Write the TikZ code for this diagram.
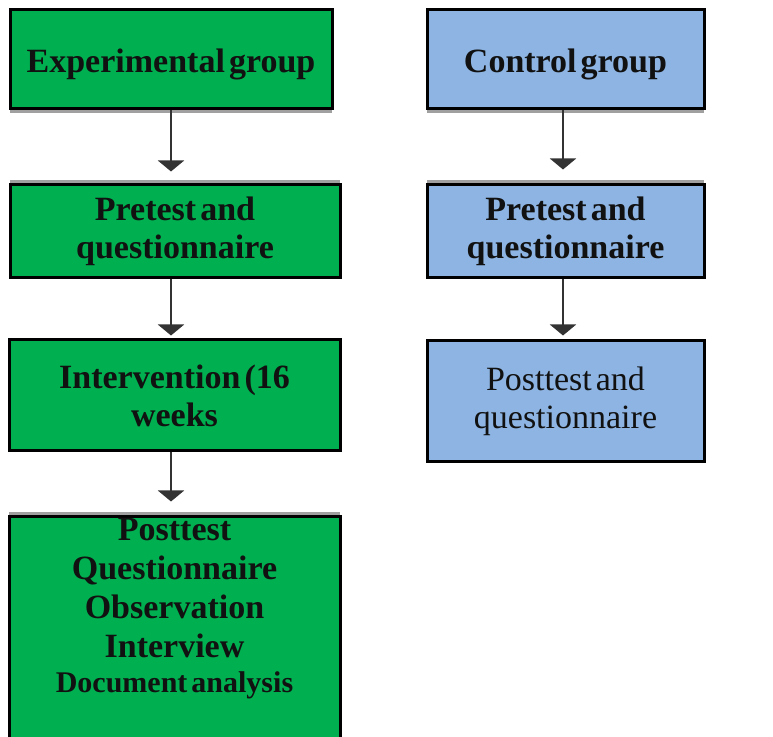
\documentclass[tikz,border=0pt]{standalone}
\usepackage{fontspec}
\setmainfont{Liberation Serif}
\usetikzlibrary{arrows.meta,shadows}
\definecolor{expgreen}{HTML}{00B050}
\definecolor{ctlblue}{HTML}{8DB4E2}
\definecolor{ink}{HTML}{111111}
\definecolor{arrowgray}{HTML}{333333}
\definecolor{bevel}{HTML}{A0A0A0}
\newcommand\tightwords{\spaceskip=0.12em\relax}

\begin{document}
\begin{tikzpicture}[x=1pt,y=1pt,
  box/.style={draw=black, line width=3pt, rectangle, inner sep=0pt,
    align=center, text=ink},
  boldtext/.style={font={\fontsize{34}{38}\selectfont\bfseries\tightwords}},
  plaintext/.style={font={\fontsize{34}{38}\selectfont\tightwords}},
  tall/.style={execute at begin node={\rule{0pt}{#1}}},
  expbox/.style={box, boldtext, fill=expgreen},
  ctlbox/.style={box, fill=ctlblue},
  shadebelow/.style={general shadow={fill=bevel, shadow yshift=-4pt}},
  shadeabove/.style={general shadow={fill=bevel, shadow yshift=5pt}},
  flow/.style={draw=arrowgray, line width=2.2pt, -{Triangle[width=26pt,length=11pt]}}
]
\useasboundingbox (0,0) rectangle (773,736);
\fill[white] (0,0) rectangle (773,736);

% experimental column
\node[expbox, shadebelow, tall=33.5pt, minimum width=322pt, minimum height=99pt] (E1) at (171,676.5) {Experimental group};
\node[expbox, shadeabove, tall=31.5pt, minimum width=330pt, minimum height=93pt] (E2) at (175,504.5) {Pretest and\\questionnaire};
\node[expbox, minimum width=331pt, minimum height=111pt] (E3) at (174.5,340.5) {Intervention (16\\weeks};
\node[box, shadeabove, fill=expgreen, minimum width=331pt, minimum height=228pt] (E4) at (174.5,105) {};
\node[font={\fontsize{34}{39}\selectfont\bfseries\tightwords}, text=ink, align=center, inner sep=0pt, anchor=north] (E4t) at ([yshift=-3pt]E4.north)
  {Posttest\\Questionnaire\\Observation\\Interview\\[-4pt]{\fontsize{30}{36}\selectfont Document analysis}};

% control column
\node[ctlbox, boldtext, shadebelow, tall=33.5pt, minimum width=277pt, minimum height=99pt] (C1) at (565.5,676.5) {Control group};
\node[ctlbox, boldtext, shadeabove, tall=31.5pt, minimum width=277pt, minimum height=93pt] (C2) at (565.5,504.5) {Pretest and\\questionnaire};
\node[ctlbox, plaintext, minimum width=277pt, minimum height=121pt] (C3) at (565.5,334.5) {Posttest and\\questionnaire};

% connectors
\draw[flow, shorten >=12pt] (E1.south) -- (E1.south |- E2.north);
\draw[flow, shorten >=3pt] (E1.south |- E2.south) -- (E1.south |- E3.north);
\draw[flow, shorten >=14pt] (E1.south |- E3.south) -- (E1.south |- E4.north);
\draw[flow, shorten >=14pt] ([xshift=-2.5pt]C1.south) -- ([xshift=-2.5pt]C1.south |- C2.north);
\draw[flow, shorten >=4pt] ([xshift=-2.5pt]C2.south) -- ([xshift=-2.5pt]C2.south |- C3.north);
\end{tikzpicture}
\end{document}
